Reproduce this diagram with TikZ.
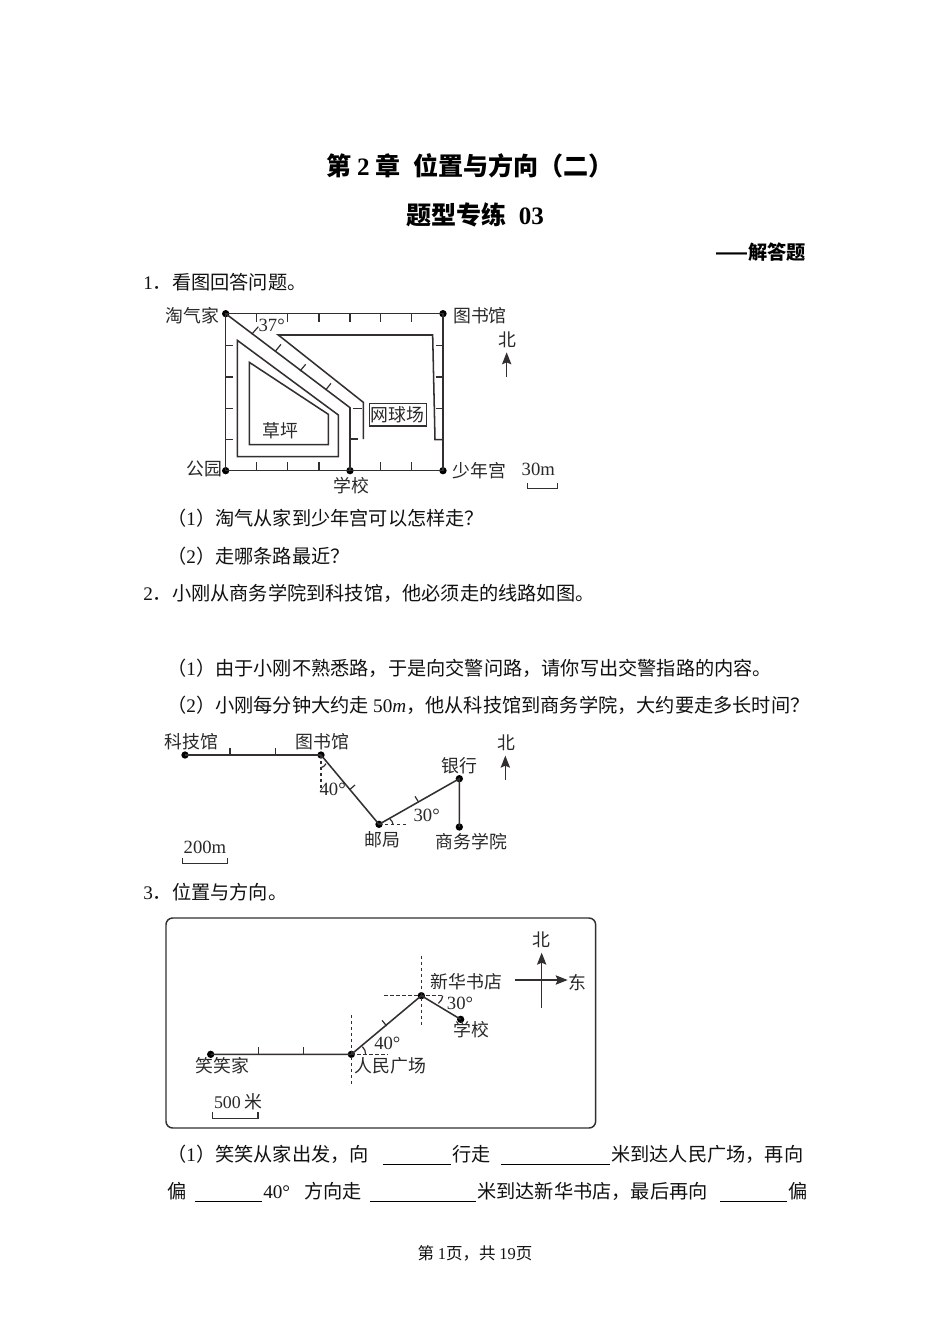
\documentclass[tikz,border=0pt]{standalone}
\usepackage{fontspec}
\setmainfont{Noto Sans CJK SC}
\newfontfamily\latf{Liberation Serif}
\newcommand{\lat}[1]{{\latf #1}}
\usetikzlibrary{arrows.meta}
\definecolor{ink}{HTML}{111111}
\definecolor{lineink}{HTML}{332F2F}
\tikzset{
  body/.style={inner sep=0pt,anchor=west,text=ink,font=\fontsize{14.4}{17}\selectfont,text height=11pt,text depth=2.5pt},
  lab/.style={inner sep=0pt,text=ink!90!white,font=\fontsize{13.4}{15}\selectfont},
  latlab/.style={lab,font=\fontsize{14}{15}\latf\selectfont},
  road/.style={draw=lineink,line width=1.15pt},
  thin road/.style={draw=lineink,line width=0.9pt},
  dash line/.style={draw=lineink,line width=0.8pt,dash pattern=on 2.5pt off 2pt},
  dot/.style={circle,fill=black,inner sep=0pt,minimum size=5.5pt},
  uline/.style={draw=black,line width=0.75pt},
  fig1/.style={shift={(150,295)},x=0.25pt,y=-0.25pt},
  fig2/.style={shift={(150,725)},x=0.25pt,y=-0.25pt},
  fig3/.style={shift={(155,910)},x=0.25pt,y=-0.25pt},
  arr/.style={-{Stealth[length=9pt,width=7pt,inset=1.5pt]}},
}
\begin{document}
\begin{tikzpicture}[x=0.75pt,y=-0.75pt]
\useasboundingbox (0,0) rectangle (950,1344);
\fill[white] (0,0) rectangle (950,1344);
% headings
\node[inner sep=0pt,text=black,font=\fontsize{18.8}{22}\bfseries\selectfont] (t1) at (470,166) {第 \lat{2} 章\hspace{0.5em}位置与方向（二）};
\node[inner sep=0pt,text=black,font=\fontsize{18.8}{22}\bfseries\selectfont] (t2) at (475,215) {题型专练\hspace{0.5em}\lat{03}};
\node[inner sep=0pt,anchor=east,text=black,font=\fontsize{14.4}{17}\bfseries\selectfont] (t3) at (806,252) {——解答题};
\node[body] (q1) at (143,284) {\lat{1}．看图回答问题。};
\node[body] (q11) at (167,520) {（\lat{1}）淘气从家到少年宫可以怎样走？};
\node[body] (q12) at (167,558) {（\lat{2}）走哪条路最近？};
\node[body] (q2) at (143,595) {\lat{2}．小刚从商务学院到科技馆，他必须走的线路如图。};
\node[body] (q21) at (167,670) {（\lat{1}）由于小刚不熟悉路，于是向交警问路，请你写出交警指路的内容。};
\node[body] (q22) at (167,707) {（\lat{2}）小刚每分钟大约走 \lat{50\textit{m}}，他从科技馆到商务学院，大约要走多长时间？};
\node[body] (q3) at (143,894) {\lat{3}．位置与方向。};
% blanks line 1
\node[body] (a1) at (167,1156) {（\lat{1}）笑笑从家出发，向};
\node[body] (a2) at (452,1156) {行走};
\node[body] (a3) at (611,1156) {米到达人民广场，再向};
\draw[uline] (383,1164) -- (451,1164);
\draw[uline] (501,1164) -- (610,1164);
% blanks line 2
\node[body] (b1) at (167,1193) {偏};
\node[body] (b2) at (263,1193) {\lat{40°}};
\node[body] (b3) at (304,1193) {方向走};
\node[body] (b4) at (477,1193) {米到达新华书店，最后再向};
\node[body] (b5) at (788,1193) {偏};
\draw[uline] (195,1201) -- (262,1201);
\draw[uline] (370,1201) -- (476,1201);
\draw[uline] (720,1201) -- (787,1201);
\node[inner sep=0pt,text=ink,font=\fontsize{12.4}{15}\selectfont] (foot) at (475,1253) {第 \lat{1}页，共 \lat{19}页};

% ---------- figure 1
\begin{scope}[fig1]
\foreach \x in {320,413,507,600,692,785} {
  \draw[thin road] (\x,56) -- (\x,80);
  \draw[thin road] (\x,502) -- (\x,527);
}
\foreach \y in {152,246,340,434} {
  \draw[thin road] (227,\y) -- (250,\y);
  \draw[thin road] (857,\y) -- (879,\y);
}
\node[dot] (tq) at (227,56) {};
\node[dot] (tsg) at (879,56) {};
\node[dot] (gy) at (227,527) {};
\node[dot] (snG) at (879,527) {};
\node[dot] (xx) at (600,527) {};
\coordinate (r1) at (600,338);
\coordinate (r2) at (385,120);
\coordinate (r3) at (640,322);
\coordinate (r4) at (640,432);
\coordinate (r5) at (848,120);
\coordinate (r6) at (855,434);
\coordinate (r7) at (879,434);
\draw[road] (tq.center) -- (tsg.center) -- (snG.center) -- (gy.center) -- cycle;
\draw[road] (tq.center) -- (r1) -- (xx.center);
\draw[road] (r4) -- (r3) -- (r2) -- (r5) -- (r6) -- (r7);
\draw[thin road] (305,118) -- (325,95);
\draw[thin road] (375,170) -- (393,148);
\draw[thin road] (450,228) -- (467,208);
\draw[thin road] (527,285) -- (543,265);
\draw[thin road] (608,340) -- (635,340);
\draw[thin road] (603,432) -- (625,432);
\draw[road] (262,136) -- (565,360) -- (565,485) -- (262,485) -- cycle;
\draw[road] (298,202) -- (535,358) -- (535,449) -- (298,449) -- cycle;
\node[draw=lineink,line width=0.9pt,inner sep=0pt,minimum width=42.75pt,minimum height=17pt,lab] (wq) at (743,359) {网球场};
\node[lab] (l1) at (127,62) {淘气家};
\node[lab] (l2) at (990,62) {图书馆};
\node[lab] (l3) at (1073,135) {北};
\node[latlab] (l4) at (365,90) {37°};
\node[lab] (l5) at (392,408) {草坪};
\node[lab] (l6) at (163,522) {公园};
\node[lab] (l7) at (988,527) {少年宫};
\node[lab] (l8) at (604,572) {学校};
\node[latlab] (l9) at (1165,522) {30m};
\coordinate (n0) at (1070,247);
\coordinate (n1) at (1070,172);
\draw[thin road,arr] (n0) -- (n1);
\draw[thin road] (1132,563) -- (1132,580) -- (1222,580) -- (1222,563);
\end{scope}

% ---------- figure 2
\begin{scope}[fig2]
\node[dot] (kj) at (105,90) {};
\node[dot] (ts) at (513,90) {};
\node[dot] (yj) at (687,298) {};
\node[dot] (yh) at (928,161) {};
\node[dot] (sw) at (928,306) {};
\coordinate (d1) at (513,200);
\coordinate (d2) at (770,298);
\draw[dash line] (ts.center) -- (d1);
\draw[dash line] (yj.center) -- (d2);
\draw[road] (kj.center) -- (ts.center) -- (yj.center) -- (yh.center) -- (sw.center);
\draw[thin road] (240,70) -- (240,90);
\draw[thin road] (376,70) -- (376,90);
\draw[thin road] (600,193) -- (615,180);
\draw[thin road] (795,214) -- (805,230);
\draw[thin road] (513,128) .. controls (520,127) and (524,122) .. (528,116);
\draw[thin road] (720,282) .. controls (726,287) and (728,292) .. (729,298);
\node[lab] (m1) at (125,50) {科技馆};
\node[lab] (m2) at (518,50) {图书馆};
\node[lab] (m3) at (927,122) {银行};
\node[lab] (m4) at (697,343) {邮局};
\node[lab] (m5) at (965,350) {商务学院};
\node[lab] (m6) at (1070,52) {北};
\node[latlab] (m7) at (548,192) {40°};
\node[latlab] (m8) at (830,270) {30°};
\node[latlab] (m9) at (165,368) {200m};
\coordinate (n2) at (1066,165);
\coordinate (n3) at (1066,92);
\draw[thin road,arr] (n2) -- (n3);
\draw[thin road] (98,400) -- (98,415) -- (233,415) -- (233,400);
\end{scope}

% ---------- figure 3
\begin{scope}[fig3]
\draw[draw=lineink,line width=1.1pt,rounded corners=5pt] (33,24) rectangle (1322,654);
\node[dot] (xj) at (167,433) {};
\node[dot] (rm) at (589,433) {};
\node[dot] (xh) at (799,257) {};
\node[dot] (xu) at (917,328) {};
\coordinate (e1) at (589,315);
\coordinate (e2) at (589,525);
\coordinate (e3) at (700,433);
\coordinate (e4) at (799,138);
\coordinate (e5) at (799,350);
\coordinate (e6) at (688,257);
\coordinate (e7) at (865,257);
\draw[dash line] (e1) -- (e2);
\draw[dash line] (rm.center) -- (e3);
\draw[dash line] (e4) -- (e5);
\draw[dash line] (e6) -- (e7);
\draw[road] (xj.center) -- (rm.center) -- (xh.center) -- (xu.center);
\draw[thin road] (311,412) -- (311,433);
\draw[thin road] (445,412) -- (445,433);
\draw[thin road] (681,331) -- (695,348);
\draw[thin road] (622,410) .. controls (629,416) and (632,424) .. (632,433);
\draw[thin road] (850,280) .. controls (857,276) and (861,268) .. (863,257);
\node[lab] (p1) at (1160,90) {北};
\node[lab] (p2) at (1268,217) {东};
\node[lab] (p3) at (935,215) {新华书店};
\node[latlab] (p4) at (915,280) {30°};
\node[lab] (p5) at (948,360) {学校};
\node[latlab] (p6) at (697,400) {40°};
\node[lab] (p7) at (706,466) {人民广场};
\node[lab] (p8) at (203,466) {笑笑家};
\node[lab] (p9) at (250,575) {\lat{500} 米};
\coordinate (c1) at (1160,295);
\coordinate (c2) at (1160,128);
\coordinate (c3) at (1080,210);
\coordinate (c4) at (1238,210);
\draw[thin road,arr] (c1) -- (c2);
\draw[thin road,arr] (c3) -- (c4);
\draw[thin road] (173,605) -- (173,625) -- (309,625) -- (309,605);
\end{scope}
\end{tikzpicture}
\end{document}
